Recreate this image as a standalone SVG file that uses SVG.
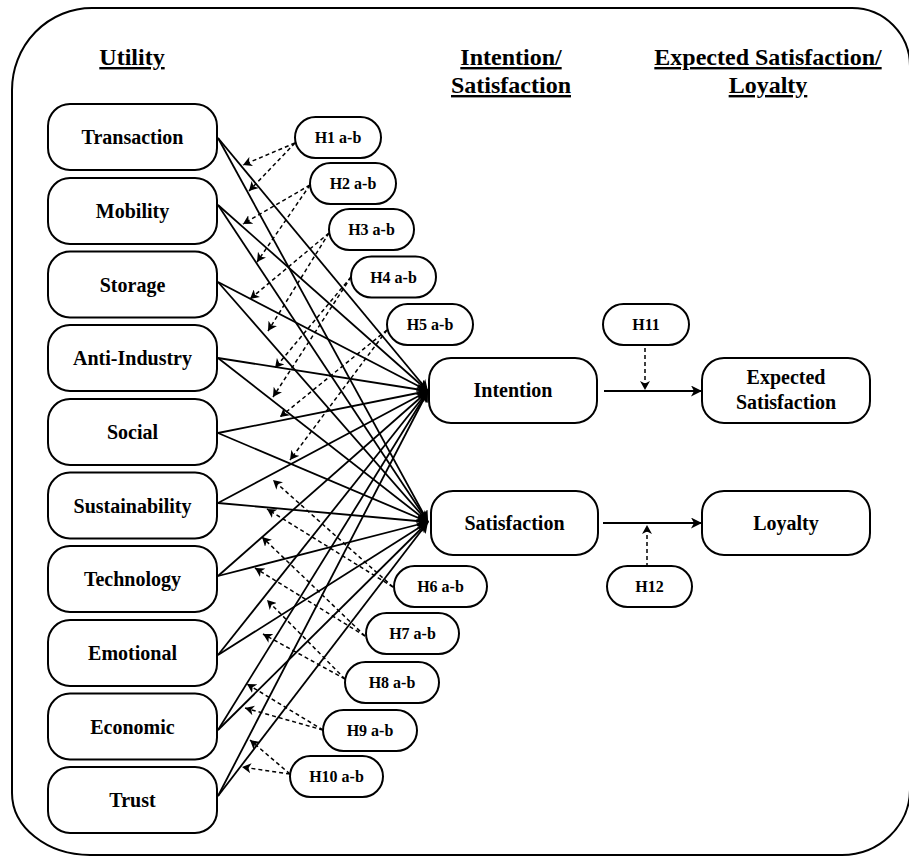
<svg xmlns="http://www.w3.org/2000/svg" width="909" height="856" viewBox="0 0 909 856">
<defs>
<style>
.frame{fill:none;stroke:#000;stroke-width:2}
.node rect{fill:#fff;stroke:#000;stroke-width:2}
text{font-family:'Liberation Serif','Times New Roman',Times,'DejaVu Serif',serif;font-weight:bold;text-anchor:middle;fill:#000}
.t{font-size:20px}
.h{font-size:16px}
.hd{font-size:24px;text-decoration:underline}
.s{fill:none;stroke:#000;stroke-width:1.8;marker-end:url(#arr)}
.d{fill:none;stroke:#000;stroke-width:1.5;stroke-dasharray:4 3;marker-end:url(#arrs)}
</style>
<marker id="arr" markerUnits="userSpaceOnUse" markerWidth="12" markerHeight="11" refX="11" refY="5.5" orient="auto">
<path d="M0,0 L11,5.5 L0,11 L3,5.5 Z" fill="#000"/>
</marker>
<marker id="arrs" markerUnits="userSpaceOnUse" markerWidth="10" markerHeight="10" refX="9" refY="5" orient="auto">
<path d="M0,0 L9,5 L0,10 L2.5,5 Z" fill="#000"/>
</marker>
</defs>
<rect width="909" height="856" fill="#fff"/>
<path class="frame" d="M92,8 H852 A58,58 0 0 1 910,66 V790 A68,66 0 0 1 842,855 H90 A78,62 0 0 1 12,793 V90 A80,82 0 0 1 92,8 Z"/>

<g id="headers">
<text class="hd" x="132" y="65">Utility</text>
<text class="hd" x="511" y="65">Intention/</text>
<text class="hd" x="511" y="93">Satisfaction</text>
<text class="hd" x="768" y="65">Expected Satisfaction/</text>
<text class="hd" x="768" y="93">Loyalty</text>
</g>

<g id="connectors">
<line class="s" x1="218" y1="138" x2="428" y2="391"/>
<line class="s" x1="218" y1="138" x2="428" y2="522"/>
<line class="s" x1="218" y1="205" x2="428" y2="391"/>
<line class="s" x1="218" y1="205" x2="428" y2="522"/>
<line class="s" x1="218" y1="282" x2="428" y2="391"/>
<line class="s" x1="218" y1="282" x2="428" y2="522"/>
<line class="s" x1="218" y1="358" x2="428" y2="391"/>
<line class="s" x1="218" y1="358" x2="428" y2="522"/>
<line class="s" x1="218" y1="433" x2="428" y2="391"/>
<line class="s" x1="218" y1="433" x2="428" y2="522"/>
<line class="s" x1="218" y1="503" x2="428" y2="391"/>
<line class="s" x1="218" y1="503" x2="428" y2="522"/>
<line class="s" x1="218" y1="576" x2="428" y2="391"/>
<line class="s" x1="218" y1="576" x2="428" y2="522"/>
<line class="s" x1="218" y1="655" x2="428" y2="391"/>
<line class="s" x1="218" y1="655" x2="428" y2="522"/>
<line class="s" x1="218" y1="730" x2="428" y2="391"/>
<line class="s" x1="218" y1="730" x2="428" y2="522"/>
<line class="s" x1="218" y1="796" x2="428" y2="391"/>
<line class="s" x1="218" y1="796" x2="428" y2="522"/>
<line class="s" x1="604" y1="391" x2="702" y2="391"/>
<line class="s" x1="603" y1="523" x2="702" y2="523"/>
<line class="d" x1="295" y1="143" x2="243" y2="165"/>
<line class="d" x1="295" y1="143" x2="249" y2="191"/>
<line class="d" x1="310" y1="185" x2="243" y2="224"/>
<line class="d" x1="310" y1="185" x2="257" y2="262"/>
<line class="d" x1="329" y1="233" x2="250" y2="299"/>
<line class="d" x1="329" y1="233" x2="268" y2="331"/>
<line class="d" x1="351" y1="277" x2="275" y2="368"/>
<line class="d" x1="351" y1="277" x2="273" y2="397"/>
<line class="d" x1="387" y1="330" x2="280" y2="417"/>
<line class="d" x1="387" y1="330" x2="290" y2="460"/>
<line class="d" x1="393" y1="587" x2="273" y2="480"/>
<line class="d" x1="393" y1="587" x2="267" y2="509"/>
<line class="d" x1="365" y1="636" x2="262" y2="537"/>
<line class="d" x1="365" y1="636" x2="255" y2="568"/>
<line class="d" x1="345" y1="679" x2="267" y2="600"/>
<line class="d" x1="345" y1="679" x2="263" y2="634"/>
<line class="d" x1="323" y1="730" x2="247" y2="684"/>
<line class="d" x1="323" y1="730" x2="245" y2="708"/>
<line class="d" x1="290" y1="774" x2="250" y2="740"/>
<line class="d" x1="290" y1="774" x2="242" y2="767"/>
<line class="d" x1="645" y1="348" x2="645" y2="390"/>
<line class="d" x1="647" y1="567" x2="647" y2="525"/>
</g>

<g id="transaction" class="node"><rect x="48" y="104" width="169" height="66" rx="22"/><text class="t" x="132.5" y="144">Transaction</text></g>
<g id="mobility" class="node"><rect x="48" y="178" width="169" height="66" rx="22"/><text class="t" x="132.5" y="218">Mobility</text></g>
<g id="storage" class="node"><rect x="48" y="251.5" width="169" height="66" rx="22"/><text class="t" x="132.5" y="291.5">Storage</text></g>
<g id="anti-industry" class="node"><rect x="48" y="325" width="169" height="66" rx="22"/><text class="t" x="132.5" y="365">Anti-Industry</text></g>
<g id="social" class="node"><rect x="48" y="399" width="169" height="66" rx="22"/><text class="t" x="132.5" y="439">Social</text></g>
<g id="sustainability" class="node"><rect x="48" y="472.5" width="169" height="66" rx="22"/><text class="t" x="132.5" y="512.5">Sustainability</text></g>
<g id="technology" class="node"><rect x="48" y="546" width="169" height="66" rx="22"/><text class="t" x="132.5" y="586">Technology</text></g>
<g id="emotional" class="node"><rect x="48" y="620" width="169" height="66" rx="22"/><text class="t" x="132.5" y="660">Emotional</text></g>
<g id="economic" class="node"><rect x="48" y="693.5" width="169" height="66" rx="22"/><text class="t" x="132.5" y="733.5">Economic</text></g>
<g id="trust" class="node"><rect x="48" y="767" width="169" height="66" rx="22"/><text class="t" x="132.5" y="807">Trust</text></g>

<g id="intention" class="node"><rect x="429" y="358" width="168" height="65" rx="22"/><text class="t" x="513" y="397">Intention</text></g>
<g id="satisfaction" class="node"><rect x="431" y="491" width="167" height="64" rx="22"/><text class="t" x="514.5" y="530">Satisfaction</text></g>
<g id="expected-satisfaction" class="node"><rect x="702" y="358" width="168" height="65" rx="22"/><text class="t" x="786" y="384">Expected</text><text class="t" x="786" y="409">Satisfaction</text></g>
<g id="loyalty" class="node"><rect x="702" y="491" width="168" height="64" rx="22"/><text class="t" x="786" y="530">Loyalty</text></g>

<g id="h1" class="node"><rect x="295" y="117" width="86" height="41" rx="20.5"/><text class="h" x="338" y="143">H1 a-b</text></g>
<g id="h2" class="node"><rect x="310" y="163" width="86" height="41" rx="20.5"/><text class="h" x="353" y="189">H2 a-b</text></g>
<g id="h3" class="node"><rect x="329" y="209" width="85" height="41" rx="20.5"/><text class="h" x="371.5" y="235">H3 a-b</text></g>
<g id="h4" class="node"><rect x="351" y="256.5" width="85" height="41" rx="20.5"/><text class="h" x="393.5" y="282.5">H4 a-b</text></g>
<g id="h5" class="node"><rect x="387" y="304" width="86" height="41" rx="20.5"/><text class="h" x="430" y="330">H5 a-b</text></g>
<g id="h6" class="node"><rect x="394" y="566" width="93" height="41" rx="20.5"/><text class="h" x="440.5" y="592">H6 a-b</text></g>
<g id="h7" class="node"><rect x="366" y="613" width="93" height="41" rx="20.5"/><text class="h" x="412.5" y="639">H7 a-b</text></g>
<g id="h8" class="node"><rect x="345" y="662" width="94" height="41" rx="20.5"/><text class="h" x="392" y="688">H8 a-b</text></g>
<g id="h9" class="node"><rect x="323" y="710" width="94" height="41" rx="20.5"/><text class="h" x="370" y="736">H9 a-b</text></g>
<g id="h10" class="node"><rect x="290" y="756" width="93" height="41" rx="20.5"/><text class="h" x="336.5" y="782">H10 a-b</text></g>
<g id="h11" class="node"><rect x="603" y="304" width="86" height="41" rx="20.5"/><text class="h" x="646" y="330">H11</text></g>
<g id="h12" class="node"><rect x="607" y="566" width="85" height="41" rx="20.5"/><text class="h" x="649.5" y="592">H12</text></g>
</svg>
